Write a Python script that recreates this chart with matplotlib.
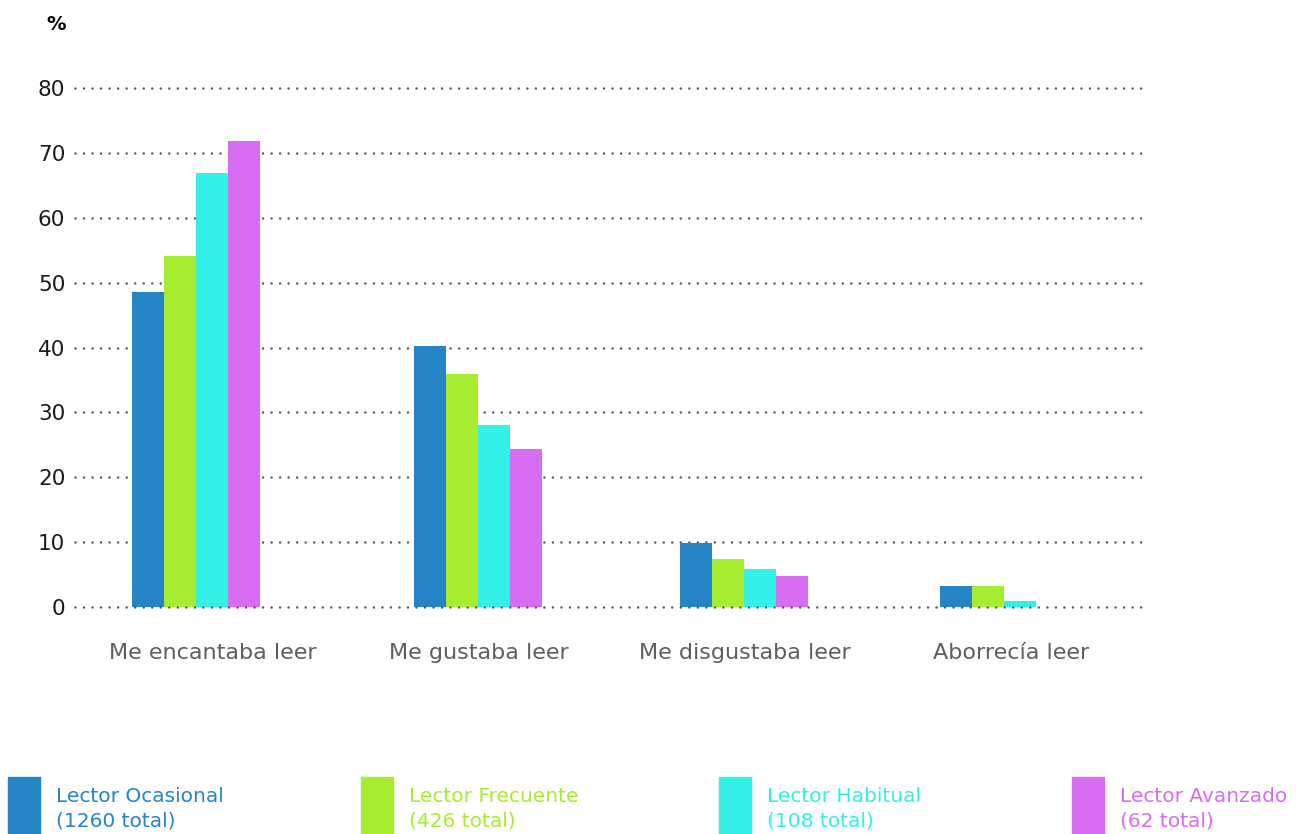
import numpy as np
import matplotlib.pyplot as plt
from matplotlib.patches import Rectangle

plt.rcParams["font.family"] = ["DejaVu Sans"]

# 데이터
categories = ["Me encantaba leer", "Me gustaba leer", "Me disgustaba leer", "Aborrecía leer"]
series_names = ["Lector Ocasional", "Lector Frecuente", "Lector Habitual", "Lector Avanzado"]
series_totals = ["(1260 total)", "(426 total)", "(108 total)", "(62 total)"]
ocasional = [48.5, 40.2, 9.9, 3.3]
frecuente = [54.1, 35.9, 7.4, 3.3]
habitual = [66.9, 28.1, 5.9, 0.9]
avanzado = [71.8, 24.4, 4.8, 0.0]
yticks = [0, 10, 20, 30, 40, 50, 60, 70, 80]

colors = ["#2484C6", "#A6EC31", "#33F0E6", "#D86CF2"]
values = [ocasional, frecuente, habitual, avanzado]

W, H = 1297, 834
fig = plt.figure(figsize=(W / 100, H / 100), dpi=100)
px = 81 * (607 - 88) / 80
ax = fig.add_axes([75 / W, (H - 607) / H, (1145 - 75) / W, px / H])

x = np.arange(len(categories))
# 원본 차트에서 막대 묶음이 라벨과 약간 어긋나 있음
group_pos = x + np.array([-0.064, -0.004, -0.004, -0.026])
w = 32 / 266
for i, (vals, c) in enumerate(zip(values, colors)):
    ax.bar(group_pos + (i - 1.5) * w, vals, width=w, color=c, zorder=2)

ax.set_xlim(-0.52, 3.504)
ax.set_ylim(0, 81)
ax.set_yticks(yticks)
ax.set_yticklabels([str(t) for t in yticks], fontsize=15.5, color="#1a1a1a")
ax.set_xticks(x)
ax.set_xticklabels(categories, fontsize=16, color="#5e5e5e")
ax.tick_params(axis="both", length=0)
ax.tick_params(axis="y", pad=7)
ax.tick_params(axis="x", pad=26)

for t in yticks:
    ax.axhline(t, color="#555555", linewidth=1.8, linestyle=(0, (0.01, 3.4)),
               dash_capstyle="round", zorder=3 if t == 0 else 1, clip_on=False)

for s in ax.spines.values():
    s.set_visible(False)

fig.text(46 / W, 1 - 24 / H, "%", fontsize=14, fontweight="bold", va="center", ha="left")

# 범례
leg_x = [8, 361, 719, 1072]
for lx, name, tot, c in zip(leg_x, series_names, series_totals, colors):
    fig.patches.append(Rectangle((lx / W, 0), 32 / W, 57 / H, transform=fig.transFigure,
                                 color=c, zorder=1))
    fig.text((lx + 48) / W, 1 - 796 / H, name, fontsize=14.5, color=c, va="center", ha="left")
    fig.text((lx + 48) / W, 1 - 821 / H, tot, fontsize=14.5, color=c, va="center", ha="left")

fig.savefig("out.png", dpi=100)
